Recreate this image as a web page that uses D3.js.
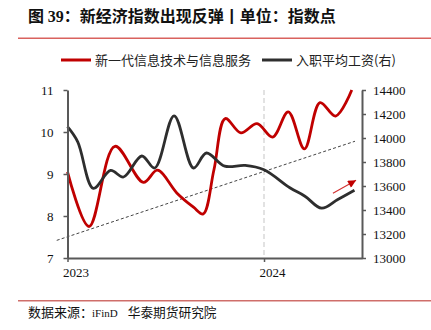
<!DOCTYPE html>
<html><head><meta charset="utf-8">
<script src="https://cdn.jsdelivr.net/npm/d3@7"></script>
<style>
html,body{margin:0;padding:0;background:#fff;}
svg{display:block;}
</style></head>
<body><svg id="c" width="431" height="330"></svg>
<script>
// ---------- data ----------
const titleParts = ["图 ", "39", "：新经济指数出现反弹丨单位：指数点"];
const seriesNames = ["新一代信息技术与信息服务", "入职平均工资(右)"];
const redDates = ["2023-01-01","2023-02-10","2023-03-30","2023-05-22","2023-06-17","2023-07-23","2023-08-23","2023-09-10","2023-09-30","2023-10-21","2023-11-19","2023-12-19","2024-01-17","2024-02-15","2024-03-16","2024-04-14","2024-05-13","2024-06-12"];
const redValues = [9.05,7.75,9.66,8.80,9.09,8.55,8.21,8.05,9.10,10.32,9.98,10.20,9.88,10.48,9.60,10.70,10.38,11.00];
const blackDates = ["2023-01-01","2023-01-20","2023-02-18","2023-03-22","2023-04-15","2023-05-19","2023-06-12","2023-07-18","2023-08-23","2023-09-16","2023-10-20","2023-11-27","2024-01-01","2024-02-18","2024-03-17","2024-04-17","2024-05-17","2024-06-17"];
const blackValues = [14094,13968,13580,13730,13675,13850,13750,14185,13750,13875,13765,13772,13735,13585,13515,13415,13488,13565];
const trendDates = ["2022-12-12","2024-06-18"];
const trendValues = [7.42, 9.78];
const arrowDates = ["2024-05-08","2024-06-20"];
const arrowValues = [8.54, 8.85];
const leftTicks = [7,8,9,10,11];
const rightTicks = [13000,13200,13400,13600,13800,14000,14200,14400];
const yearTicks = ["2023-01-01","2024-01-01"];
const xDomain = ["2023-01-01","2024-07-01"];
const sourceParts = ["数据来源：", "iFinD", "华泰期货研究院"];

// ---------- setup ----------
const parse = d3.utcParse("%Y-%m-%d");
const svg = d3.select("#c");
const L = 67.5, R = 362, T = 90, B = 258;
const x = d3.scaleUtc().domain(xDomain.map(parse)).range([L, R]);
const yL = d3.scaleLinear().domain([7, 11]).range([B, T]);
const yR = d3.scaleLinear().domain([13000, 14400]).range([B, T]);
const RED = "#c00000", BLACK = "#2e2e2e", AXIS = "#595959";
const serif = "'Liberation Serif','Times New Roman',serif";
const cjk = "'Noto Sans CJK SC','Noto Sans',sans-serif";

// title
const tt = svg.append("text").attr("x", 28).attr("y", 21.5)
  .attr("font-size", 16).attr("font-weight", "bold").attr("fill", "#111");
tt.append("tspan").attr("font-family", cjk).text(titleParts[0]);
tt.append("tspan").attr("font-family", serif).text(titleParts[1]);
tt.append("tspan").attr("font-family", cjk).text(titleParts[2]);

// rules
svg.append("line").attr("x1", 18).attr("x2", 431).attr("y1", 38.3).attr("y2", 38.3)
  .attr("stroke", "#d9625e").attr("stroke-width", 1.5);
svg.append("line").attr("x1", 18).attr("x2", 431).attr("y1", 300.7).attr("y2", 300.7)
  .attr("stroke", "#cf6e6a").attr("stroke-width", 1.5);

// legend
const leg = [{name: seriesNames[0], color: RED, x: 61}, {name: seriesNames[1], color: BLACK, x: 262}];
leg.forEach(d => {
  svg.append("line").attr("x1", d.x).attr("x2", d.x + 30).attr("y1", 60).attr("y2", 60)
    .attr("stroke", d.color).attr("stroke-width", 3);
  svg.append("text").attr("x", d.x + 34).attr("y", 64.8).attr("font-family", cjk)
    .attr("font-size", 13).attr("fill", "#222").text(d.name);
});

// vertical dashed line at 2024
const yr2024 = parse(yearTicks[1]);
svg.append("line").attr("x1", x(yr2024)).attr("x2", x(yr2024)).attr("y1", yL(11)).attr("y2", yL(7))
  .attr("stroke", "#e2e2e2").attr("stroke-width", 2).attr("stroke-dasharray", "5,3");

// trend dashed line
const trend = trendDates.map((d, i) => [x(parse(d)), yL(trendValues[i])]);
svg.append("path").attr("d", d3.line()(trend)).attr("fill", "none")
  .attr("stroke", "#444").attr("stroke-width", 1).attr("stroke-dasharray", "3,2.2");

// series
const redPts = redDates.map((d, i) => [x(parse(d)), yL(redValues[i])]);
const blackPts = blackDates.map((d, i) => [x(parse(d)), yR(blackValues[i])]);
const lineGen = d3.line().curve(d3.curveCatmullRom.alpha(0.5));
svg.append("path").attr("d", lineGen(redPts)).attr("fill", "none")
  .attr("stroke", RED).attr("stroke-width", 2.8).attr("stroke-linejoin", "round");
svg.append("path").attr("d", lineGen(blackPts)).attr("fill", "none")
  .attr("stroke", BLACK).attr("stroke-width", 2.8).attr("stroke-linejoin", "round");

// arrow
const defs = svg.append("defs");
defs.append("marker").attr("id", "ah").attr("viewBox", "0 0 10 10").attr("refX", 10).attr("refY", 5)
  .attr("markerWidth", 10).attr("markerHeight", 8).attr("markerUnits", "userSpaceOnUse")
  .attr("orient", "auto")
  .append("path").attr("d", "M0,0 L10,5 L0,10 Z").attr("fill", RED);
const ar = arrowDates.map((d, i) => [x(parse(d)), yL(arrowValues[i])]);
svg.append("path").attr("d", d3.line()(ar)).attr("stroke", "#d23030").attr("stroke-width", 1.1)
  .attr("fill", "none").attr("marker-end", "url(#ah)");

// axes
function styleAxis(g) {
  g.select(".domain").attr("stroke", AXIS).attr("stroke-width", 2);
  g.selectAll(".tick line").attr("stroke", AXIS).attr("stroke-width", 1.5);
  g.selectAll(".tick text").attr("font-family", serif).attr("font-size", 13).attr("fill", "#111");
}
svg.append("g").attr("transform", `translate(${L},0)`)
  .call(d3.axisLeft(yL).tickValues(leftTicks).tickSize(4).tickSizeOuter(0).tickPadding(10).tickFormat(d3.format("d")))
  .call(styleAxis);
svg.append("g").attr("transform", `translate(${R},0)`)
  .call(d3.axisRight(yR).tickValues(rightTicks).tickSize(4).tickSizeOuter(0).tickPadding(7).tickFormat(d3.format("d")))
  .call(styleAxis);
const gx = svg.append("g").attr("transform", `translate(0,${B})`)
  .call(d3.axisBottom(x).tickValues(yearTicks.map(parse)).tickSize(4).tickSizeOuter(0).tickPadding(6).tickFormat(d3.utcFormat("%Y")))
  .call(styleAxis);
gx.selectAll(".tick text").attr("dx", 8);

// source
const st = svg.append("text").attr("x", 28).attr("y", 316.5).attr("fill", "#111");
st.append("tspan").attr("font-family", cjk).attr("font-size", 13).text(sourceParts[0]);
st.append("tspan").attr("font-family", serif).attr("font-size", 11).attr("dx", -1).text(sourceParts[1]);
st.append("tspan").attr("font-family", cjk).attr("font-size", 12.7).attr("dx", 10).text(sourceParts[2]);
</script>
</body></html>
